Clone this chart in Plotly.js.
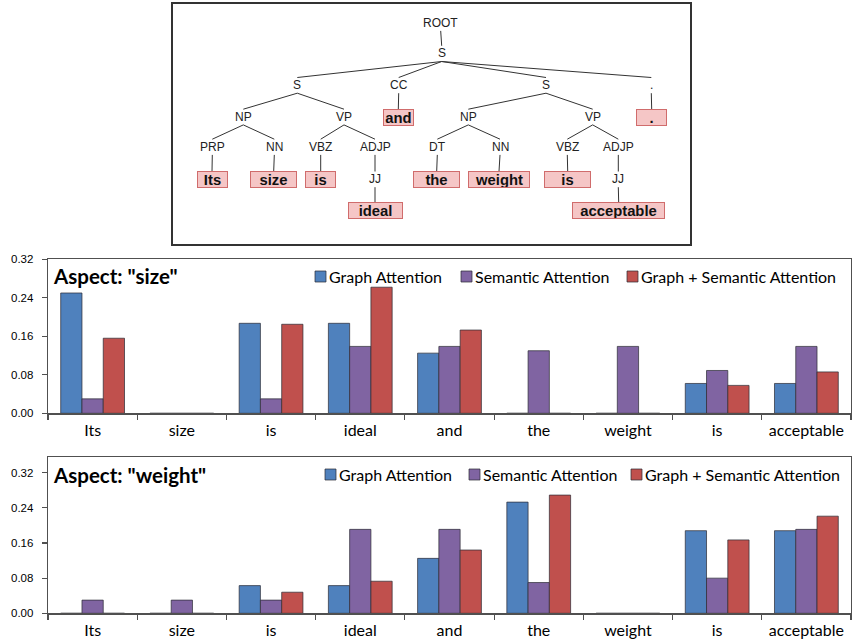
<!DOCTYPE html>
<html>
<head>
<meta charset="utf-8">
<script src="https://cdn.plot.ly/plotly-3.0.1.min.js"></script>
<style>html,body{margin:0;padding:0;background:#fff;}#chart{width:852px;height:641px;}</style>
</head>
<body>
<div id="chart"></div>
<script>
// ---------- data ----------
const categories = ['Its', 'size', 'is', 'ideal', 'and', 'the', 'weight', 'is', 'acceptable'];
const seriesNames = ['Graph Attention', 'Semantic Attention', 'Graph + Semantic Attention'];
const yTicks = [0, 0.08, 0.16, 0.24, 0.32];

// Aspect "size"
const sizeGraph    = [0.250, 0, 0.187, 0.187, 0.125, 0,     0,     0.062, 0.062];
const sizeSemantic = [0.030, 0, 0.030, 0.139, 0.139, 0.130, 0.139, 0.089, 0.139];
const sizeCombined = [0.156, 0, 0.185, 0.262, 0.173, 0,     0,     0.058, 0.086];

// Aspect "weight"
const weightGraph    = [0,     0,     0.063, 0.063, 0.125, 0.253, 0, 0.188, 0.188];
const weightSemantic = [0.030, 0.030, 0.030, 0.191, 0.191, 0.070, 0, 0.080, 0.191];
const weightCombined = [0,     0,     0.048, 0.073, 0.144, 0.269, 0, 0.167, 0.221];

// Parse tree structure: label, parent index, isWord
const treeLabels  = ['ROOT','S','S','CC','S','.','NP','VP','and','NP','VP','.','PRP','NN','VBZ','ADJP','DT','NN','VBZ','ADJP','Its','size','is','JJ','the','weight','is','JJ','ideal','acceptable'];
const treeParents = [-1,0,1,1,1,1,2,2,3,4,4,5,6,6,7,7,9,9,10,10,12,13,14,15,16,17,18,19,23,27];
const treeIsWord  = [0,0,0,0,0,0,0,0,1,0,0,1,0,0,0,0,0,0,0,0,1,1,1,0,1,1,1,0,1,1];

// ---------- layout helpers (pixel positions) ----------
const W = 852, H = 641;
const px = x => x / W;
const py = y => (H - y) / H;
// tree node positions (diagram layout, in pixels)
const nodeX = [440.7,441.7,297.3,398.7,546,651.3,243.3,344,398.3,468.3,592.7,651.7,212.3,274.3,320.7,375,437.3,500,567.3,618.3,212,273.7,320.7,375,436.7,499,567.7,618.3,375,618.7];
const nodeY = [22.7,53.3,85,85,85,85,116.7,116.7,117.5,116.7,116.7,117.5,146.7,146.7,146.7,146.7,146.7,146.7,146.7,146.7,179.3,179.3,179.3,179,179.3,179.3,179.3,179,210.5,210.5];
const boxW  = {8:31, 11:31, 20:31, 21:47, 22:31, 24:47, 25:62, 26:47, 28:55, 29:93};

const colors = ['#4F81BD', '#8064A2', '#C0504D'];
const outline = 'rgba(45,45,55,0.9)';
const calibri = 'Lato, "Open Sans", sans-serif';
const arial = '"Liberation Sans", Arial, sans-serif';

const xKeys = categories.map((c, i) => 'k' + i);

function bars(vals, idx, xa, ya) {
  return {
    type: 'bar', x: xKeys, y: vals, name: seriesNames[idx], xaxis: xa, yaxis: ya,
    marker: {color: colors[idx], line: {color: outline, width: 0.8}},
    showlegend: false, hoverinfo: 'y'
  };
}

const traces = [
  bars(sizeGraph, 0, 'x', 'y'), bars(sizeSemantic, 1, 'x', 'y'), bars(sizeCombined, 2, 'x', 'y'),
  bars(weightGraph, 0, 'x2', 'y2'), bars(weightSemantic, 1, 'x2', 'y2'), bars(weightCombined, 2, 'x2', 'y2')
];

// tree edges
const ex = [], ey = [];
treeParents.forEach((p, i) => {
  if (p < 0) return;
  ex.push(nodeX[p], nodeX[i], null);
  const childTop = treeIsWord[i] ? nodeY[i] - 8 : nodeY[i] - 7.5;
  ey.push(nodeY[p] + 8.2, childTop, null);
});
traces.push({type: 'scatter', mode: 'lines', x: ex, y: ey, xaxis: 'x3', yaxis: 'y3',
  line: {color: '#333', width: 1}, hoverinfo: 'skip', showlegend: false});

const annotations = [];
const shapes = [];
treeLabels.forEach((t, i) => {
  if (treeIsWord[i]) {
    annotations.push({xref: 'x3', yref: 'y3', x: nodeX[i], y: nodeY[i], text: '<b>' + t + '</b>',
      showarrow: false, font: {family: arial, size: 14.8, color: '#111'},
      width: boxW[i] - 2, height: 15, borderpad: 0, borderwidth: 1,
      bgcolor: '#f5c6c6', bordercolor: '#d06c6c', xanchor: 'center', yanchor: 'middle'});
  } else {
    annotations.push({xref: 'x3', yref: 'y3', x: nodeX[i], y: nodeY[i], text: t,
      showarrow: false, font: {family: arial, size: 12, color: '#222'}, xanchor: 'center', yanchor: 'middle'});
  }
});

// titles
annotations.push({xref: 'paper', yref: 'paper', x: px(51), y: py(276), xanchor: 'left', yanchor: 'middle',
  text: '<b>Aspect: "size"</b>', showarrow: false, font: {family: calibri, size: 20.5, color: '#000'}});
annotations.push({xref: 'paper', yref: 'paper', x: px(51), y: py(475), xanchor: 'left', yanchor: 'middle',
  text: '<b>Aspect: "weight"</b>', showarrow: false, font: {family: calibri, size: 20.5, color: '#000'}});

// legends
function legend(sqX, yc) {
  seriesNames.forEach((n, i) => {
    shapes.push({type: 'rect', xref: 'paper', yref: 'paper', x0: px(sqX[i]), x1: px(sqX[i] + 11),
      y0: py(yc + 5.5), y1: py(yc - 5.5), fillcolor: colors[i], line: {color: outline, width: 0.8}});
    annotations.push({xref: 'paper', yref: 'paper', x: px(sqX[i] + 12), y: py(yc), xanchor: 'left', yanchor: 'middle',
      text: n, showarrow: false, font: {family: calibri, size: 16, color: '#000'}});
  });
}
legend([315, 461, 627], 276.5);
legend([325, 469, 631], 474.5);

const axisLine = '#505050';
function xAxis(dom, anchor) {
  return {domain: dom, anchor: anchor, type: 'category', tickmode: 'array', tickvals: xKeys, ticktext: categories,
    tickson: 'boundaries', ticks: 'outside', ticklen: 5, tickcolor: axisLine, tickwidth: 1.2,
    showline: true, mirror: true, linecolor: axisLine, linewidth: 1.3, showgrid: false, zeroline: false,
    tickfont: {family: calibri, size: 16, color: '#000'}, ticklabelstandoff: 2, fixedrange: true};
}
function yAxis(dom, anchor, rng) {
  return {domain: dom, anchor: anchor, range: rng, tickmode: 'array', tickvals: yTicks,
    ticktext: yTicks.map(v => v.toFixed(2)), ticks: 'outside', ticklen: 5, tickcolor: axisLine, tickwidth: 1.2,
    showline: true, mirror: true, linecolor: axisLine, linewidth: 1.3, showgrid: false, zeroline: false,
    tickfont: {family: arial, size: 11.5, color: '#000'}, ticklabelstandoff: 6, fixedrange: true};
}

const layout = {
  width: W, height: H, margin: {l: 0, r: 0, t: 0, b: 0},
  paper_bgcolor: '#fff', plot_bgcolor: 'rgba(0,0,0,0)',
  barmode: 'group', bargap: 0.285, bargroupgap: 0, showlegend: false,
  xaxis: xAxis([px(48), px(851)], 'y'),
  yaxis: yAxis([py(413.3), py(259.3)], 'x', [0, 0.32]),
  xaxis2: xAxis([px(48), px(851)], 'y2'),
  yaxis2: yAxis([py(613.3), py(457.3)], 'x2', [0, 0.355]),
  xaxis3: {domain: [px(173), px(690)], anchor: 'y3', range: [173, 690], showticklabels: false, ticks: '',
    showgrid: false, zeroline: false, showline: true, mirror: true, linecolor: '#333', linewidth: 1.8, fixedrange: true},
  yaxis3: {domain: [py(244), py(4)], anchor: 'x3', range: [244, 4], showticklabels: false, ticks: '',
    showgrid: false, zeroline: false, showline: true, mirror: true, linecolor: '#333', linewidth: 1.8, fixedrange: true},
  annotations: annotations, shapes: shapes
};

Plotly.newPlot('chart', traces, layout, {displayModeBar: false, staticPlot: true});
</script>
</body>
</html>
